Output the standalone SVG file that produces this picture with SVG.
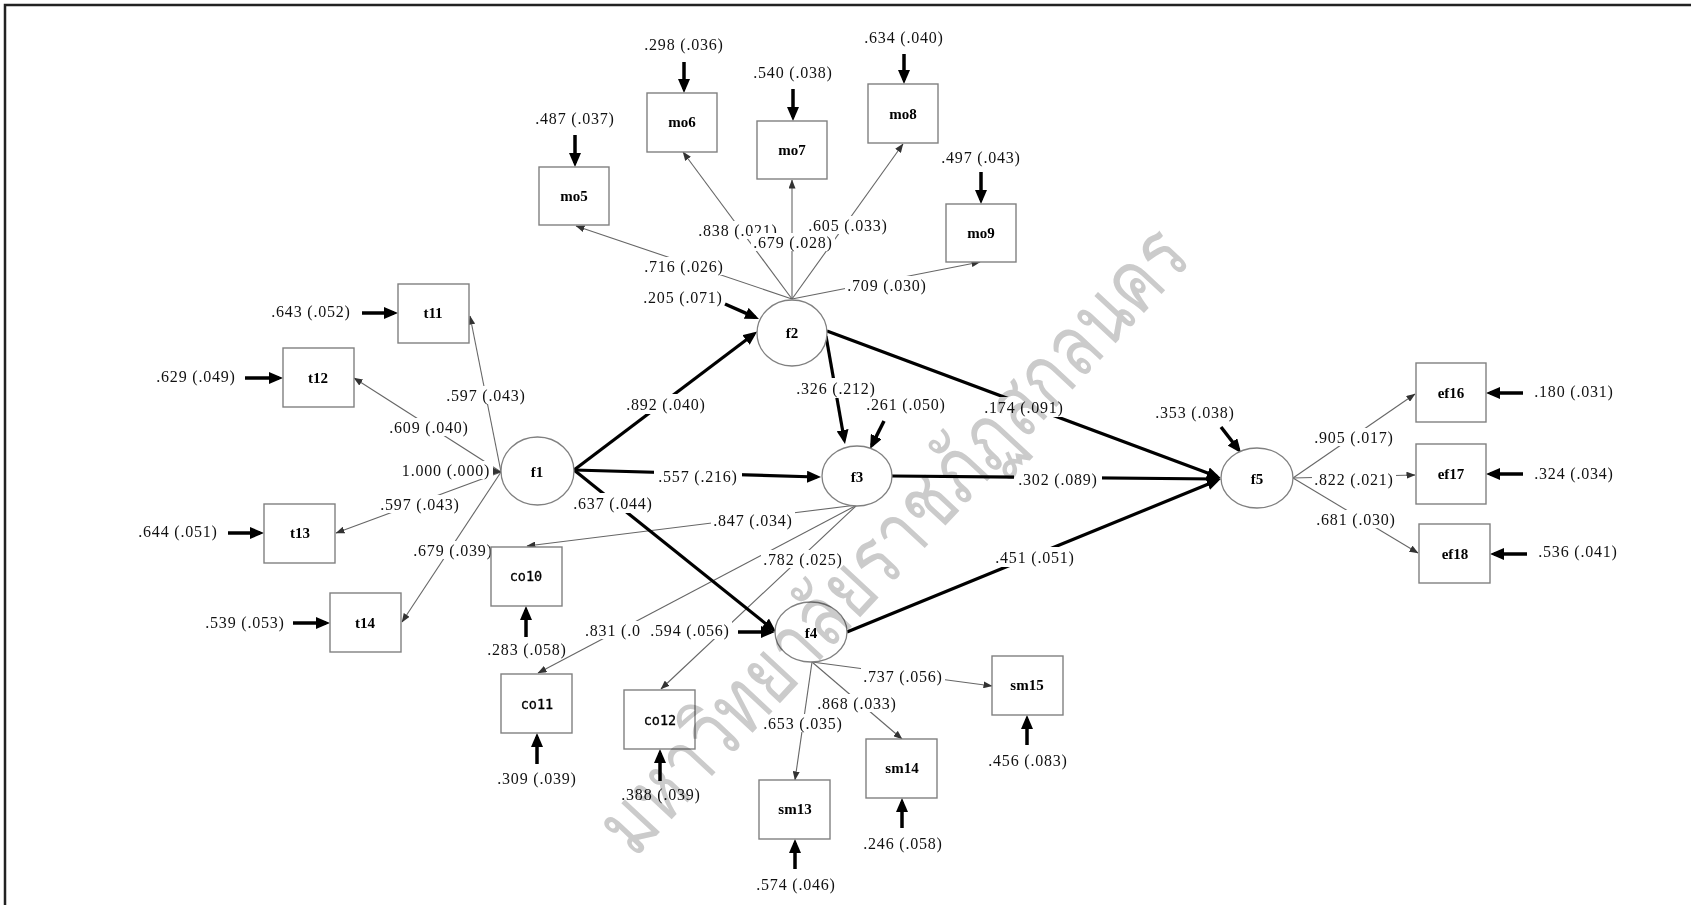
<svg xmlns="http://www.w3.org/2000/svg" width="1691" height="905" viewBox="0 0 1691 905">
<style>
.lbl{font-family:"Liberation Serif",serif;font-size:16px;letter-spacing:0.8px;text-anchor:middle;dominant-baseline:central;fill:#111}
.bg{fill:#fff}
.box{fill:#fff;stroke:#808080;stroke-width:1.4}
.lat{fill:#fff;stroke:#808080;stroke-width:1.3}
.thin{stroke:#666;stroke-width:1.1;fill:none;marker-end:url(#ah)}
.thick{stroke:#000;stroke-width:3.2;fill:none;marker-end:url(#AH)}
.err{stroke:#000;stroke-width:3.5;fill:none;marker-end:url(#AH)}
.nl{font-family:"Liberation Serif",serif;font-size:15px;font-weight:bold;text-anchor:middle;dominant-baseline:central;fill:#000}
.nm{font-family:"DejaVu Sans Mono","Liberation Mono",monospace;font-size:13.5px;text-anchor:middle;dominant-baseline:central;fill:#000;stroke:#000;stroke-width:0.3}
.wm{font-family:"Loma","Garuda","Norasi","Noto Sans Thai Looped","Noto Serif Thai","Noto Sans Thai","Noto Sans",sans-serif;font-size:86px;font-weight:300;fill:#cbcbcb;text-anchor:middle;mix-blend-mode:multiply}
</style>
<defs>
<marker id="ah" markerUnits="userSpaceOnUse" markerWidth="9" markerHeight="7" viewBox="0 0 9 7" refX="8.5" refY="3.5" orient="auto"><path d="M0,0 L9,3.5 L0,7 z" fill="#333"/></marker>
<marker id="AH" markerUnits="userSpaceOnUse" markerWidth="14" markerHeight="12" viewBox="0 0 14 12" refX="10" refY="6" orient="auto"><path d="M0,0 L14,6 L0,12 z" fill="#000"/></marker>
</defs>
<rect width="1691" height="905" fill="#fff"/>
<path d="M5,905 V5 H1691" fill="none" stroke="#222" stroke-width="2.5"/>

<g id="connectors">
<line class="thin" x1="792" y1="299" x2="576" y2="226"/>
<line class="thin" x1="792" y1="299" x2="683" y2="152"/>
<line class="thin" x1="792" y1="299" x2="792" y2="180"/>
<line class="thin" x1="792" y1="299" x2="903" y2="144"/>
<line class="thin" x1="792" y1="299" x2="980" y2="262"/>
<line class="thin" x1="501" y1="472" x2="470" y2="316"/>
<line class="thin" x1="501" y1="472" x2="354" y2="378"/>
<line class="thin" x1="501" y1="472" x2="336" y2="533"/>
<line class="thin" x1="501" y1="472" x2="402" y2="622"/>
<line class="thin" x1="491" y1="471" x2="501" y2="472"/>
<line class="thin" x1="857" y1="505" x2="527" y2="546"/>
<line class="thin" x1="857" y1="505" x2="538" y2="673"/>
<line class="thin" x1="857" y1="505" x2="661" y2="689"/>
<line class="thin" x1="812" y1="662" x2="795" y2="780"/>
<line class="thin" x1="812" y1="662" x2="902" y2="739"/>
<line class="thin" x1="812" y1="662" x2="992" y2="686"/>
<line class="thin" x1="1293" y1="478" x2="1415" y2="394"/>
<line class="thin" x1="1293" y1="478" x2="1415" y2="475"/>
<line class="thin" x1="1293" y1="478" x2="1418" y2="553"/>
<line class="thick" x1="574" y1="470" x2="754" y2="334"/>
<line class="thick" x1="574" y1="470" x2="817" y2="477"/>
<line class="thick" x1="574" y1="470" x2="773" y2="629.5"/>
<line class="thick" x1="826" y1="336" x2="844.3" y2="440"/>
<line class="thick" x1="827" y1="331" x2="1217" y2="476.6"/>
<line class="thick" x1="892" y1="476" x2="1217" y2="479"/>
<line class="thick" x1="847" y1="632" x2="1217" y2="480.5"/>
<line class="err" x1="738" y1="632" x2="771" y2="632"/>
<line class="err" x1="725" y1="304" x2="755.3" y2="317.4"/>
<line class="err" x1="884" y1="421" x2="871.8" y2="445.4"/>
<line class="err" x1="1221" y1="427" x2="1238.6" y2="449.8"/>
<line class="err" x1="362" y1="313" x2="394" y2="313"/>
<line class="err" x1="245" y1="378" x2="279" y2="378"/>
<line class="err" x1="228" y1="533" x2="260" y2="533"/>
<line class="err" x1="293" y1="623" x2="326" y2="623"/>
<line class="err" x1="575" y1="135" x2="575" y2="163"/>
<line class="err" x1="684" y1="62" x2="684" y2="89"/>
<line class="err" x1="793" y1="89" x2="793" y2="117"/>
<line class="err" x1="904" y1="54" x2="904" y2="80"/>
<line class="err" x1="981" y1="172" x2="981" y2="200"/>
<line class="err" x1="526" y1="637" x2="526" y2="610"/>
<line class="err" x1="537" y1="764" x2="537" y2="737"/>
<line class="err" x1="660" y1="781" x2="660" y2="753"/>
<line class="err" x1="795" y1="869" x2="795" y2="843"/>
<line class="err" x1="902" y1="828" x2="902" y2="802"/>
<line class="err" x1="1027" y1="745" x2="1027" y2="719"/>
<line class="err" x1="1523" y1="393" x2="1490" y2="393"/>
<line class="err" x1="1523" y1="474" x2="1490" y2="474"/>
<line class="err" x1="1527" y1="554" x2="1494" y2="554"/>

<g id="labels">
<rect class="bg" x="642" y="257" width="84" height="18"/><text class="lbl" x="684" y="266">.716 (.026)</text>
<rect class="bg" x="696" y="221" width="84" height="18"/><text class="lbl" x="738" y="230">.838 (.021)</text>
<rect class="bg" x="751" y="233" width="84" height="18"/><text class="lbl" x="793" y="242">.679 (.028)</text>
<rect class="bg" x="806" y="216" width="84" height="18"/><text class="lbl" x="848" y="225">.605 (.033)</text>
<rect class="bg" x="845" y="276" width="84" height="18"/><text class="lbl" x="887" y="285">.709 (.030)</text>
<rect class="bg" x="444" y="386" width="84" height="18"/><text class="lbl" x="486" y="395">.597 (.043)</text>
<rect class="bg" x="387" y="418" width="84" height="18"/><text class="lbl" x="429" y="427">.609 (.040)</text>
<rect class="bg" x="378" y="495" width="84" height="18"/><text class="lbl" x="420" y="504">.597 (.043)</text>
<rect class="bg" x="411" y="541" width="84" height="18"/><text class="lbl" x="453" y="550">.679 (.039)</text>
<rect class="bg" x="399" y="461" width="94" height="18"/><text class="lbl" x="446" y="470">1.000 (.000)</text>
<rect class="bg" x="711" y="511" width="84" height="18"/><text class="lbl" x="753" y="520">.847 (.034)</text>
<rect class="bg" x="583" y="621" width="60" height="18"/><text class="lbl" x="585" y="630" style="text-anchor:start">.831 (.0</text>
<rect class="bg" x="761" y="550" width="84" height="18"/><text class="lbl" x="803" y="559">.782 (.025)</text>
<rect class="bg" x="761" y="714" width="84" height="18"/><text class="lbl" x="803" y="723">.653 (.035)</text>
<rect class="bg" x="815" y="694" width="84" height="18"/><text class="lbl" x="857" y="703">.868 (.033)</text>
<rect class="bg" x="861" y="667" width="84" height="18"/><text class="lbl" x="903" y="676">.737 (.056)</text>
<rect class="bg" x="1312" y="428" width="84" height="18"/><text class="lbl" x="1354" y="437">.905 (.017)</text>
<rect class="bg" x="1312" y="470" width="84" height="18"/><text class="lbl" x="1354" y="479">.822 (.021)</text>
<rect class="bg" x="1314" y="510" width="84" height="18"/><text class="lbl" x="1356" y="519">.681 (.030)</text>
<rect class="bg" x="622" y="394" width="88" height="20"/><text class="lbl" x="666" y="404">.892 (.040)</text>
<rect class="bg" x="654" y="466" width="88" height="20"/><text class="lbl" x="698" y="476">.557 (.216)</text>
<rect class="bg" x="569" y="493" width="88" height="20"/><text class="lbl" x="613" y="503">.637 (.044)</text>
<rect class="bg" x="792" y="378" width="88" height="20"/><text class="lbl" x="836" y="388">.326 (.212)</text>
<rect class="bg" x="980" y="397" width="88" height="20"/><text class="lbl" x="1024" y="407">.174 (.091)</text>
<rect class="bg" x="1014" y="469" width="88" height="20"/><text class="lbl" x="1058" y="479">.302 (.089)</text>
<rect class="bg" x="991" y="547" width="88" height="20"/><text class="lbl" x="1035" y="557">.451 (.051)</text>
<rect class="bg" x="648" y="621" width="84" height="18"/><text class="lbl" x="690" y="630">.594 (.056)</text>
<text class="lbl" x="683" y="297">.205 (.071)</text>
<text class="lbl" x="906" y="404">.261 (.050)</text>
<text class="lbl" x="1195" y="412">.353 (.038)</text>
<text class="lbl" x="575" y="118">.487 (.037)</text>
<text class="lbl" x="684" y="44">.298 (.036)</text>
<text class="lbl" x="793" y="72">.540 (.038)</text>
<text class="lbl" x="904" y="37">.634 (.040)</text>
<text class="lbl" x="981" y="157">.497 (.043)</text>
<text class="lbl" x="311" y="311">.643 (.052)</text>
<text class="lbl" x="196" y="376">.629 (.049)</text>
<text class="lbl" x="178" y="531">.644 (.051)</text>
<text class="lbl" x="245" y="622">.539 (.053)</text>
<text class="lbl" x="527" y="649">.283 (.058)</text>
<text class="lbl" x="537" y="778">.309 (.039)</text>
<text class="lbl" x="661" y="794">.388 (.039)</text>
<text class="lbl" x="796" y="884">.574 (.046)</text>
<text class="lbl" x="903" y="843">.246 (.058)</text>
<text class="lbl" x="1028" y="760">.456 (.083)</text>
<text class="lbl" x="1574" y="391">.180 (.031)</text>
<text class="lbl" x="1574" y="473">.324 (.034)</text>
<text class="lbl" x="1578" y="551">.536 (.041)</text>
</g>
</g>

<g id="mo5"><rect class="box" x="539" y="167" width="70" height="58"/><text class="nl" x="574" y="196">mo5</text></g>
<g id="mo6"><rect class="box" x="647" y="93" width="70" height="59"/><text class="nl" x="682" y="122">mo6</text></g>
<g id="mo7"><rect class="box" x="757" y="121" width="70" height="58"/><text class="nl" x="792" y="150">mo7</text></g>
<g id="mo8"><rect class="box" x="868" y="84" width="70" height="59"/><text class="nl" x="903" y="114">mo8</text></g>
<g id="mo9"><rect class="box" x="946" y="204" width="70" height="58"/><text class="nl" x="981" y="233">mo9</text></g>
<g id="t11"><rect class="box" x="398" y="284" width="71" height="59"/><text class="nl" x="433" y="313">t11</text></g>
<g id="t12"><rect class="box" x="283" y="348" width="71" height="59"/><text class="nl" x="318" y="378">t12</text></g>
<g id="t13"><rect class="box" x="264" y="504" width="71" height="59"/><text class="nl" x="300" y="533">t13</text></g>
<g id="t14"><rect class="box" x="330" y="593" width="71" height="59"/><text class="nl" x="365" y="623">t14</text></g>
<g id="co10"><rect class="box" x="491" y="547" width="71" height="59"/><text class="nm" x="526" y="576">co10</text></g>
<g id="co11"><rect class="box" x="501" y="674" width="71" height="59"/><text class="nm" x="537" y="704">co11</text></g>
<g id="co12"><rect class="box" x="624" y="690" width="71" height="59"/><text class="nm" x="660" y="720">co12</text></g>
<g id="sm13"><rect class="box" x="759" y="780" width="71" height="59"/><text class="nl" x="795" y="809">sm13</text></g>
<g id="sm14"><rect class="box" x="866" y="739" width="71" height="59"/><text class="nl" x="902" y="768">sm14</text></g>
<g id="sm15"><rect class="box" x="992" y="656" width="71" height="59"/><text class="nl" x="1027" y="685">sm15</text></g>
<g id="ef16"><rect class="box" x="1416" y="363" width="70" height="59"/><text class="nl" x="1451" y="393">ef16</text></g>
<g id="ef17"><rect class="box" x="1416" y="444" width="70" height="60"/><text class="nl" x="1451" y="474">ef17</text></g>
<g id="ef18"><rect class="box" x="1419" y="524" width="71" height="59"/><text class="nl" x="1455" y="554">ef18</text></g>
<g id="f1"><ellipse class="lat" cx="537.5" cy="471" rx="36.5" ry="34"/><text class="nl" x="537" y="472">f1</text></g>
<g id="f2"><ellipse class="lat" cx="792" cy="333" rx="35" ry="33"/><text class="nl" x="792" y="333">f2</text></g>
<g id="f3"><ellipse class="lat" cx="857" cy="476" rx="35" ry="30"/><text class="nl" x="857" y="477">f3</text></g>
<g id="f4"><ellipse class="lat" cx="811" cy="632" rx="36" ry="30"/><text class="nl" x="811" y="633">f4</text></g>
<g id="f5"><ellipse class="lat" cx="1257" cy="478" rx="36" ry="30"/><text class="nl" x="1257" y="479">f5</text></g>

<text class="wm" transform="translate(895,542) rotate(-47)" dy="0.3em" textLength="820" lengthAdjust="spacingAndGlyphs">มหาวิทยาลัยราชภัฏสกลนคร</text>
</svg>
